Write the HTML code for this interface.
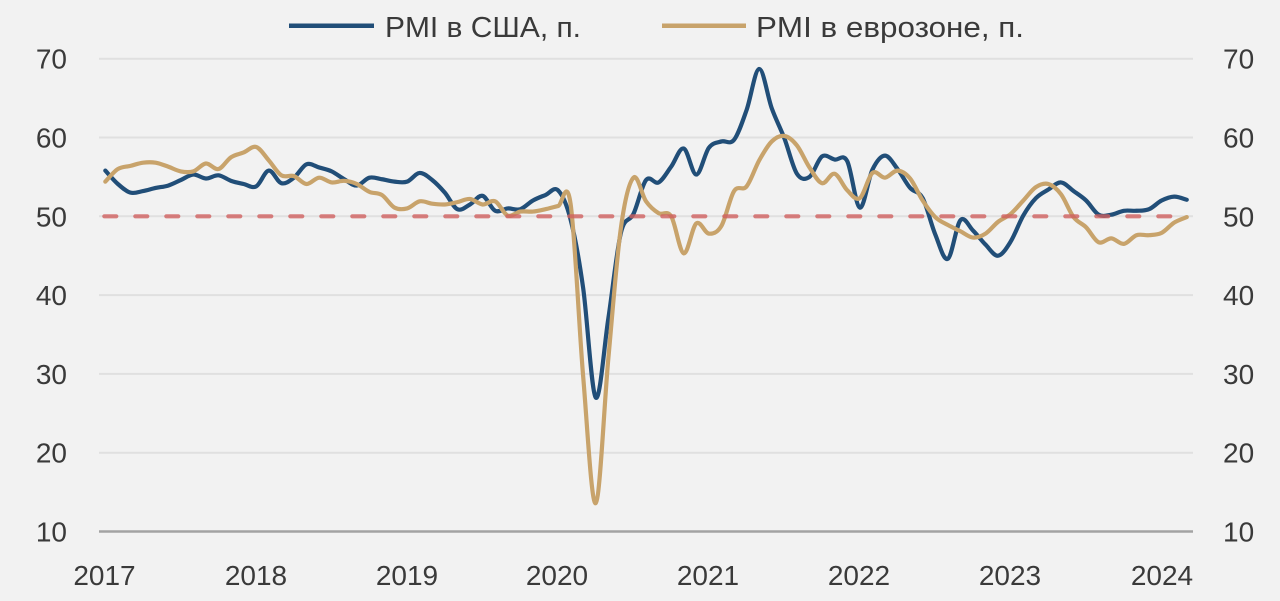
<!DOCTYPE html>
<html>
<head>
<meta charset="utf-8">
<style>
  html, body { margin:0; padding:0; background:#f2f2f2; }
  body { width:1280px; height:601px; overflow:hidden; }
  svg { display:block; }
  text { font-family:"Liberation Sans", "DejaVu Sans", sans-serif; fill:#3a3a3a; }
</style>
</head>
<body>
<svg id="chart" width="1280" height="601" viewBox="0 0 1280 601" xmlns="http://www.w3.org/2000/svg">
  <rect x="0" y="0" width="1280" height="601" fill="#f2f2f2"/>

  <!-- gridlines -->
  <g stroke="#e0e0e0" stroke-width="2">
    <line x1="99" y1="58.7" x2="1193" y2="58.7"/>
    <line x1="99" y1="137.5" x2="1193" y2="137.5"/>
    <line x1="99" y1="216.3" x2="1193" y2="216.3"/>
    <line x1="99" y1="295.1" x2="1193" y2="295.1"/>
    <line x1="99" y1="373.9" x2="1193" y2="373.9"/>
    <line x1="99" y1="452.7" x2="1193" y2="452.7"/>
  </g>
  <line x1="99" y1="531.5" x2="1193" y2="531.5" stroke="#a3a3a3" stroke-width="2.5"/>

  <!-- left axis labels -->
  <g font-size="28" text-anchor="end">
    <text x="67" y="68.7">70</text>
    <text x="67" y="147.5">60</text>
    <text x="67" y="226.3">50</text>
    <text x="67" y="305.1">40</text>
    <text x="67" y="383.9">30</text>
    <text x="67" y="462.7">20</text>
    <text x="67" y="541.5">10</text>
  </g>
  <!-- right axis labels -->
  <g font-size="28" text-anchor="start">
    <text x="1223" y="68.7">70</text>
    <text x="1223" y="147.5">60</text>
    <text x="1223" y="226.3">50</text>
    <text x="1223" y="305.1">40</text>
    <text x="1223" y="383.9">30</text>
    <text x="1223" y="462.7">20</text>
    <text x="1223" y="541.5">10</text>
  </g>
  <!-- x axis labels -->
  <g font-size="28" text-anchor="middle">
    <text x="104.5" y="585">2017</text>
    <text x="256" y="585">2018</text>
    <text x="407" y="585">2019</text>
    <text x="557" y="585">2020</text>
    <text x="708" y="585">2021</text>
    <text x="859" y="585">2022</text>
    <text x="1010" y="585">2023</text>
    <text x="1162" y="585">2024</text>
  </g>

  <!-- legend -->
  <line x1="289" y1="25.7" x2="374" y2="25.7" stroke="#214e78" stroke-width="4.5"/>
  <text x="385" y="37" font-size="29" textLength="196" lengthAdjust="spacingAndGlyphs">PMI в США, п.</text>
  <line x1="662" y1="25.7" x2="746" y2="25.7" stroke="#c8a36b" stroke-width="4.5"/>
  <text x="756" y="37" font-size="29" textLength="268" lengthAdjust="spacingAndGlyphs">PMI в еврозоне, п.</text>

  <!-- series fallback (data coords) -->
  <g id="fallback" transform="matrix(12.575 0 0 -7.88 105.3 610.3)" fill="none" stroke-linejoin="round" stroke-linecap="round">
    <polyline vector-effect="non-scaling-stroke" stroke="#214e78" stroke-width="4.2" points="0,55.8 1,54.1 2,53.0 3,53.2 4,53.6 5,53.9 6,54.6 7,55.3 8,54.8 9,55.2 10,54.5 11,54.1 12,53.8 13,55.8 14,54.2 15,54.9 16,56.6 17,56.2 18,55.7 19,54.7 20,53.9 21,54.9 22,54.7 23,54.4 24,54.4 25,55.5 26,54.6 27,53.0 28,50.9 29,51.5 30,52.6 31,50.7 32,51.0 33,50.9 34,52.0 35,52.7 36,53.3 37,49.6 38,40.9 39,27.0 40,37.0 41,47.9 42,50.3 43,54.6 44,54.3 45,56.3 46,58.6 47,55.3 48,58.7 49,59.5 50,59.7 51,63.5 52,68.7 53,63.7 54,59.9 55,55.4 56,55.0 57,57.6 58,57.2 59,57.0 60,51.1 61,55.9 62,57.7 63,56.0 64,53.6 65,52.3 66,47.7 67,44.6 68,49.5 69,48.2 70,46.4 71,45.0 72,46.8 73,50.1 74,52.3 75,53.4 76,54.3 77,53.2 78,52.0 79,50.2 80,50.2 81,50.7 82,50.7 83,50.9 84,52.0 85,52.5 86,52.1"/>
    <polyline vector-effect="non-scaling-stroke" stroke="#c8a36b" stroke-width="4.2" points="0,54.4 1,56.0 2,56.4 3,56.8 4,56.8 5,56.3 6,55.7 7,55.7 8,56.7 9,56.0 10,57.5 11,58.1 12,58.8 13,57.1 14,55.2 15,55.1 16,54.1 17,54.9 18,54.3 19,54.5 20,54.1 21,53.1 22,52.7 23,51.1 24,51.0 25,51.9 26,51.6 27,51.5 28,51.8 29,52.2 30,51.5 31,51.9 32,50.1 33,50.6 34,50.6 35,50.9 36,51.3 37,51.6 38,29.7 39,13.6 40,31.9 41,48.5 42,54.9 43,51.9 44,50.4 45,50.0 46,45.3 47,49.1 48,47.8 49,48.8 50,53.2 51,53.8 52,57.1 53,59.5 54,60.2 55,59.0 56,56.2 57,54.2 58,55.4 59,53.3 60,52.3 61,55.5 62,54.9 63,55.8 64,54.8 65,52.0 66,49.9 67,48.9 68,48.1 69,47.3 70,47.8 71,49.3 72,50.3 73,52.0 74,53.7 75,54.1 76,52.8 77,49.9 78,48.6 79,46.7 80,47.2 81,46.5 82,47.6 83,47.6 84,47.9 85,49.2 86,49.9"/>
  </g>
  <g id="smooth" fill="none" stroke-linejoin="round" stroke-linecap="round"></g>

  <!-- 50 threshold dashed line -->
  <line x1="104.3" y1="216.3" x2="1170.7" y2="216.3" stroke="#d0605f" stroke-opacity="0.8" stroke-width="4.2" stroke-dasharray="12 19" stroke-linecap="round"/>
</svg>
<script>
(function(){
  var us=[55.8,54.1,53.0,53.2,53.6,53.9,54.6,55.3,54.8,55.2,54.5,54.1,53.8,55.8,54.2,54.9,56.6,56.2,55.7,54.7,53.9,54.9,54.7,54.4,54.4,55.5,54.6,53.0,50.9,51.5,52.6,50.7,51.0,50.9,52.0,52.7,53.3,49.6,40.9,27.0,37.0,47.9,50.3,54.6,54.3,56.3,58.6,55.3,58.7,59.5,59.7,63.5,68.7,63.7,59.9,55.4,55.0,57.6,57.2,57.0,51.1,55.9,57.7,56.0,53.6,52.3,47.7,44.6,49.5,48.2,46.4,45.0,46.8,50.1,52.3,53.4,54.3,53.2,52.0,50.2,50.2,50.7,50.7,50.9,52.0,52.5,52.1];
  var ez=[54.4,56.0,56.4,56.8,56.8,56.3,55.7,55.7,56.7,56.0,57.5,58.1,58.8,57.1,55.2,55.1,54.1,54.9,54.3,54.5,54.1,53.1,52.7,51.1,51.0,51.9,51.6,51.5,51.8,52.2,51.5,51.9,50.1,50.6,50.6,50.9,51.3,51.6,29.7,13.6,31.9,48.5,54.9,51.9,50.4,50.0,45.3,49.1,47.8,48.8,53.2,53.8,57.1,59.5,60.2,59.0,56.2,54.2,55.4,53.3,52.3,55.5,54.9,55.8,54.8,52.0,49.9,48.9,48.1,47.3,47.8,49.3,50.3,52.0,53.7,54.1,52.8,49.9,48.6,46.7,47.2,46.5,47.6,47.6,47.9,49.2,49.9];
  function T(i,v){return [105.3+12.575*i, 610.3-7.88*v];}
  function smooth(d){
    var n=d.length;
    function P(i){var j=Math.max(0,Math.min(n-1,i));return T(j,d[j]);}
    var p=P(0), s='M'+p[0].toFixed(2)+','+p[1].toFixed(2);
    for(var i=0;i<n-1;i++){
      var p0=P(i-1),p1=P(i),p2=P(i+1),p3=P(i+2);
      var c1=[p1[0]+(p2[0]-p0[0])/6, p1[1]+(p2[1]-p0[1])/6];
      var c2=[p2[0]-(p3[0]-p1[0])/6, p2[1]-(p3[1]-p1[1])/6];
      s+='C'+c1[0].toFixed(2)+','+c1[1].toFixed(2)+' '+c2[0].toFixed(2)+','+c2[1].toFixed(2)+' '+p2[0].toFixed(2)+','+p2[1].toFixed(2);
    }
    return s;
  }
  var NS='http://www.w3.org/2000/svg';
  var g=document.getElementById('smooth');
  [[us,'#214e78'],[ez,'#c8a36b']].forEach(function(a){
    var p=document.createElementNS(NS,'path');
    p.setAttribute('d',smooth(a[0]));
    p.setAttribute('stroke',a[1]);
    p.setAttribute('stroke-width','4.2');
    g.appendChild(p);
  });
  document.getElementById('fallback').style.display='none';
})();
</script>
</body>
</html>
